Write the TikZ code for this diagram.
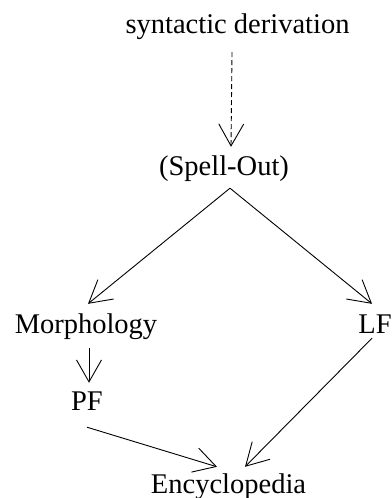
\documentclass[tikz,border=0pt]{standalone}
\usepackage{fontspec}
\setmainfont{Liberation Serif}
\usetikzlibrary{arrows.meta}

\begin{document}
\begin{tikzpicture}[x=1pt,y=-1pt]
        \tikzset{
        dm node/.style={anchor=base,inner sep=0,text height=20pt,text depth=6pt,font=\fontsize{28.5}{30}\selectfont},
        dm edge/.style={line width=0.9pt,-{Straight Barb[length=22pt,width=25pt,line join=miter]}}
        }
        \useasboundingbox (0,0) rectangle (391,498);
        \node[dm node] (SD) at (237.5,33) {syntactic derivation};
        \node[dm node] (SO) at (224,175) {(Spell-Out)};
        \node[dm node] (MO) at (86,333) {Morphology};
        \node[dm node] (LF) at (375,333) {LF};
        \node[dm node] (PF) at (87,410) {PF};
        \node[dm node] (EN) at (228.5,493) {Encyclopedia};

        \path[draw]
        ([shift={(-5.5,13)}]SD.south) edge[dm edge,dash pattern=on 5pt off 3pt] ([shift={(7,-8)}]SO.north)
        ([shift={(6,7)}]SO.south) edge[dm edge] ([shift={(2,-9)}]MO.north)
        ([shift={(6,7)}]SO.south) edge[dm edge] ([shift={(-3,-9)}]LF.north)
        ([shift={(3,9)}]MO.south) edge[dm edge] ([shift={(2,-7)}]PF.north)
        ([shift={(0,11)}]PF.south) edge[dm edge] ([shift={(-11.5,-6)}]EN.north)
        ([shift={(-3,-1)}]LF.south) edge[dm edge] ([shift={(16.5,-6)}]EN.north)
        ;
    \end{tikzpicture}
\end{document}
